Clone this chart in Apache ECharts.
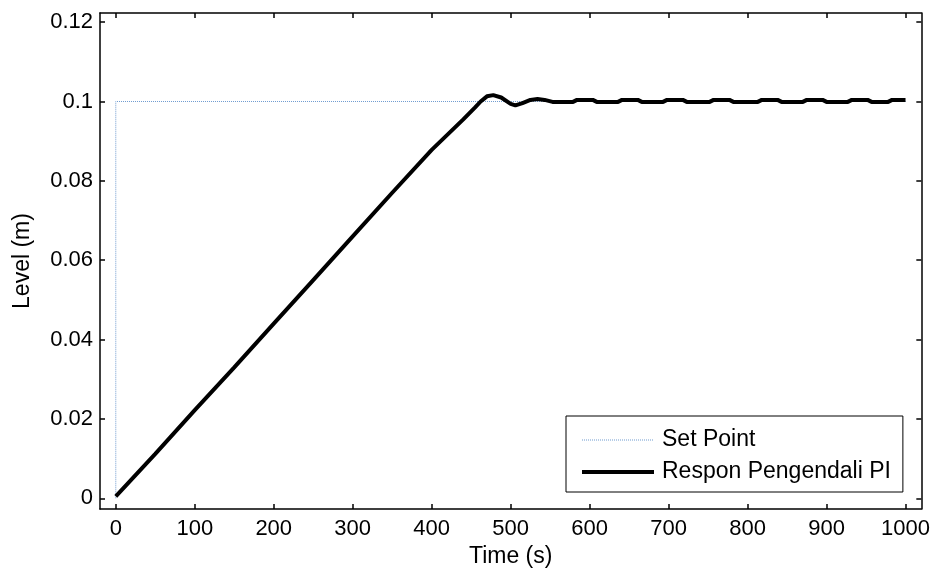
<!DOCTYPE html>
<html>
<head>
<meta charset="utf-8">
<script src="https://cdn.jsdelivr.net/npm/echarts@6/dist/echarts.min.js"></script>
<style>
  html, body { margin: 0; padding: 0; background: #fff; }
  #chart { width: 933px; height: 579px; }
</style>
</head>
<body>
<div id="chart"></div>
<script>
// Set point: step to 0.1 m at t = 0
const setPointTime = [0, 0, 1000];
const setPointLevel = [0, 0.1, 0.1];

// PI controller response: ramp, overshoot, then small ripple around 0.1 m
const responseTime = [
  0, 50, 100, 150, 200, 250, 300, 350, 400, 440, 455, 462, 470, 478, 488, 500, 506, 515, 525, 534, 543, 553,
  579, 584, 604, 609,
  636, 641, 661, 666,
  693, 698, 718, 723,
  752, 757, 777, 782,
  813, 818, 838, 843,
  870, 875, 895, 900,
  927, 932, 952, 957,
  978, 983, 1000
];
const responseLevel = [
  0.0005, 0.0112, 0.0222, 0.0330, 0.0440, 0.0550, 0.0660, 0.0770, 0.0878, 0.0955, 0.0985, 0.1000, 0.1013, 0.1016, 0.1010, 0.0994, 0.0990, 0.0996, 0.1004, 0.1006, 0.1004, 0.0999,
  0.0999, 0.1004, 0.1004, 0.0999,
  0.0999, 0.1004, 0.1004, 0.0999,
  0.0999, 0.1004, 0.1004, 0.0999,
  0.0999, 0.1004, 0.1004, 0.0999,
  0.0999, 0.1004, 0.1004, 0.0999,
  0.0999, 0.1004, 0.1004, 0.0999,
  0.0999, 0.1004, 0.1004, 0.0999,
  0.0999, 0.1004, 0.1004
];

const xTicks = [0, 100, 200, 300, 400, 500, 600, 700, 800, 900, 1000];
const yTicks = [0, 0.02, 0.04, 0.06, 0.08, 0.1, 0.12];

const xRange = [-20, 1020];
const yRange = [-0.0027, 0.1223];

const font = 'Liberation Sans, Arial, sans-serif';

function pairs(xs, ys) {
  return xs.map((x, i) => [x, ys[i]]);
}

function boxAxis(range, ticks, pos, withLabels, extra) {
  return Object.assign({
    type: 'value',
    position: pos,
    min: range[0],
    max: range[1],
    splitLine: { show: false },
    axisLine: { show: true, onZero: false, lineStyle: { color: '#000', width: 1.5 } },
    axisTick: { show: true, inside: true, length: 5, customValues: ticks, lineStyle: { color: '#000', width: 1.5 } },
    axisLabel: { show: withLabels, customValues: ticks, color: '#000', fontFamily: font, fontSize: 22 }
  }, extra || {});
}

const chart = echarts.init(document.getElementById('chart'), null, { renderer: 'canvas' });

chart.setOption({
  animation: false,
  backgroundColor: '#fff',
  grid: { left: 100, right: 11, top: 13, bottom: 70, containLabel: false },
  xAxis: [
    boxAxis(xRange, xTicks, 'bottom', true, {
      name: 'Time (s)',
      nameLocation: 'middle',
      nameGap: 32,
      nameTextStyle: { color: '#000', fontFamily: font, fontSize: 23 },
      axisLabel: {
        show: true, customValues: xTicks, margin: 9, color: '#000', fontFamily: font, fontSize: 22,
        formatter: v => String(v)
      }
    }),
    boxAxis(xRange, xTicks, 'top', false)
  ],
  yAxis: [
    boxAxis(yRange, yTicks, 'left', true, {
      name: 'Level (m)',
      nameLocation: 'middle',
      nameGap: 66,
      nameTextStyle: { color: '#000', fontFamily: font, fontSize: 23 },
      axisLabel: {
        show: true, customValues: yTicks, margin: 7, color: '#000', fontFamily: font, fontSize: 22,
        formatter: v => String(Math.round(v * 1000) / 1000)
      }
    }),
    boxAxis(yRange, yTicks, 'right', false)
  ],
  legend: {
    orient: 'vertical',
    left: 566,
    top: 416,
    padding: [12, 12, 8, 14],
    itemGap: 8,
    itemWidth: 72,
    itemHeight: 14,
    backgroundColor: '#fff',
    borderColor: '#000',
    borderWidth: 1,
    borderRadius: 0,
    itemStyle: { opacity: 0 },
    textStyle: { color: '#000', fontFamily: font, fontSize: 23, lineHeight: 24, padding: [0, 0, 0, 3] },
    data: [
      { name: 'Set Point', lineStyle: { color: '#6f9bcf', width: 1, type: 'dotted' } },
      { name: 'Respon Pengendali PI', lineStyle: { color: '#000', width: 4 } }
    ]
  },
  series: [
    {
      name: 'Set Point',
      type: 'line',
      data: pairs(setPointTime, setPointLevel),
      showSymbol: false,
      symbol: 'none',
      lineStyle: { color: '#6f9bcf', width: 1, type: 'dotted' },
      itemStyle: { color: '#6f9bcf' },
      z: 2
    },
    {
      name: 'Respon Pengendali PI',
      type: 'line',
      data: pairs(responseTime, responseLevel),
      showSymbol: false,
      symbol: 'none',
      lineStyle: { color: '#000', width: 4 },
      itemStyle: { color: '#000' },
      z: 3
    }
  ]
});
</script>
</body>
</html>
